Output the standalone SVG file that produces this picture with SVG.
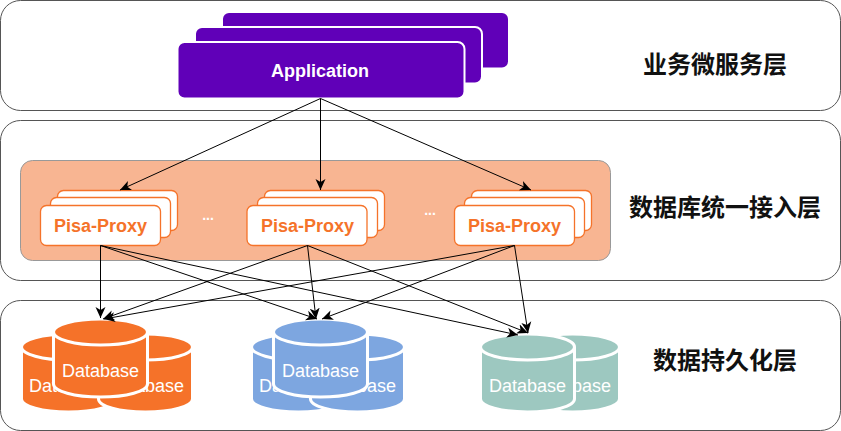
<svg xmlns="http://www.w3.org/2000/svg" width="841" height="431" viewBox="0 0 841 431">
<style>
.band{fill:#fff;stroke:#555;stroke-width:1}
.app{fill:#6000b8;stroke:#fff;stroke-width:2}
.apptext{font:bold 18px "Liberation Sans",Arial,sans-serif;fill:#fff;text-anchor:middle}
.proxy{fill:#fff;stroke:#f5732a;stroke-width:1.300}
.proxytext{font:bold 18px "Liberation Sans",Arial,sans-serif;fill:#f5732a;text-anchor:middle}
.dots{font:bold 14px "Liberation Sans",Arial,sans-serif;fill:#fff;text-anchor:middle}
.layer{font:bold 24px "Noto Sans CJK SC",sans-serif;fill:#111;text-anchor:middle}
.cyl{stroke:#fff;stroke-width:3}
.rim{fill:none;stroke:#fff;stroke-width:3}
.dbtext{font:18px "Liberation Sans",Arial,sans-serif;fill:#fff;text-anchor:middle}
.o{fill:#f57229}.b{fill:#7da6e0}.g{fill:#9dc8c0}
.conn{fill:none;stroke:#000;stroke-width:1;marker-end:url(#arrow)}
</style>
<defs>
<marker id="arrow" markerUnits="userSpaceOnUse" markerWidth="13" markerHeight="12" refX="11" refY="5.500" orient="auto">
<path d="M0,0.500L11,5.500L0,10.500L3,5.500Z" fill="#000"/>
</marker>
<path id="cylshape" d="M0,13a47,13 0 0 1 94,0v52a47,13 0 0 1 -94,0Z"/>
<path id="cylrim" d="M0,13a47,13 0 0 0 94,0"/>
</defs>
<g id="bands">
<rect id="layer-app" class="band" x="0.500" y="0.500" width="840" height="110" rx="20"/>
<rect id="layer-proxy" class="band" x="0.500" y="120.500" width="840" height="160" rx="20"/>
<rect id="layer-db" class="band" x="0.500" y="300.500" width="840" height="130" rx="20"/>
</g>
<rect id="proxy-area" x="20.500" y="160.500" width="590" height="100" rx="12" fill="#f8b592" stroke="#999"/>
<g id="application">
<rect class="app" x="222" y="12" width="287" height="56.500" rx="7"/>
<rect class="app" x="195" y="27" width="287" height="56.500" rx="7"/>
<rect class="app" x="177.500" y="42" width="287" height="56.500" rx="7"/>
<text class="apptext" x="320" y="77">Application</text>
</g>
<g id="proxy-1">
<rect class="proxy" x="57.500" y="190.500" width="120" height="40" rx="6"/>
<rect class="proxy" x="50.500" y="197.500" width="120" height="40" rx="6"/>
<rect class="proxy" x="40.500" y="205.500" width="120" height="40" rx="6"/>
<text class="proxytext" x="100.500" y="232">Pisa-Proxy</text>
</g>
<text class="dots" x="208" y="220">...</text>
<g id="proxy-2">
<rect class="proxy" x="264.500" y="190.500" width="120" height="40" rx="6"/>
<rect class="proxy" x="257.500" y="197.500" width="120" height="40" rx="6"/>
<rect class="proxy" x="247" y="205.500" width="120" height="40" rx="6"/>
<text class="proxytext" x="307.500" y="232">Pisa-Proxy</text>
</g>
<text class="dots" x="430" y="215">...</text>
<g id="proxy-3">
<rect class="proxy" x="471.500" y="190.500" width="120" height="40" rx="6"/>
<rect class="proxy" x="464.500" y="197.500" width="120" height="40" rx="6"/>
<rect class="proxy" x="454.500" y="205.500" width="120" height="40" rx="6"/>
<text class="proxytext" x="514.500" y="232">Pisa-Proxy</text>
</g>
<g id="db-orange">
<g transform="translate(21.500,334)"><use href="#cylshape" class="cyl o"/><use href="#cylrim" class="rim"/><text class="dbtext" x="46" y="58">Database</text></g>
<g transform="translate(98.500,334)"><use href="#cylshape" class="cyl o"/><use href="#cylrim" class="rim"/><text class="dbtext" x="47" y="58">Database</text></g>
<g transform="translate(53.500,319)"><use href="#cylshape" class="cyl o"/><use href="#cylrim" class="rim"/><text class="dbtext" x="47" y="58">Database</text></g>
</g>
<g id="db-blue">
<g transform="translate(251.500,334)"><use href="#cylshape" class="cyl b"/><use href="#cylrim" class="rim"/><text class="dbtext" x="46" y="58">Database</text></g>
<g transform="translate(310.500,334)"><use href="#cylshape" class="cyl b"/><use href="#cylrim" class="rim"/><text class="dbtext" x="47" y="58">Database</text></g>
<g transform="translate(273.500,319)"><use href="#cylshape" class="cyl b"/><use href="#cylrim" class="rim"/><text class="dbtext" x="47" y="58">Database</text></g>
</g>
<g id="db-green">
<g transform="translate(525.500,334)"><use href="#cylshape" class="cyl g"/><use href="#cylrim" class="rim"/><text class="dbtext" x="47" y="58">Database</text></g>
<g transform="translate(480.500,334)"><use href="#cylshape" class="cyl g"/><use href="#cylrim" class="rim"/><text class="dbtext" x="47" y="58">Database</text></g>
</g>
<g id="connectors">
<path class="conn" d="M320.500,98.500L120,190"/>
<path class="conn" d="M320.500,98.500L320.500,190"/>
<path class="conn" d="M320.500,98.500L531,190"/>
<path class="conn" d="M100.500,245.500L100.500,318"/>
<path class="conn" d="M100.500,245.500L317,319"/>
<path class="conn" d="M100.500,245.500L518,335"/>
<path class="conn" d="M307.500,245.500L103,319"/>
<path class="conn" d="M307.500,245.500L316,319"/>
<path class="conn" d="M307.500,245.500L528,333"/>
<path class="conn" d="M514.500,245.500L104,319"/>
<path class="conn" d="M514.500,245.500L322,319"/>
<path class="conn" d="M514.500,245.500L528,333"/>
</g>
<g id="labels">
<text class="layer" x="715" y="73">业务微服务层</text>
<text class="layer" x="725" y="216">数据库统一接入层</text>
<text class="layer" x="725" y="369">数据持久化层</text>
</g>
</svg>
